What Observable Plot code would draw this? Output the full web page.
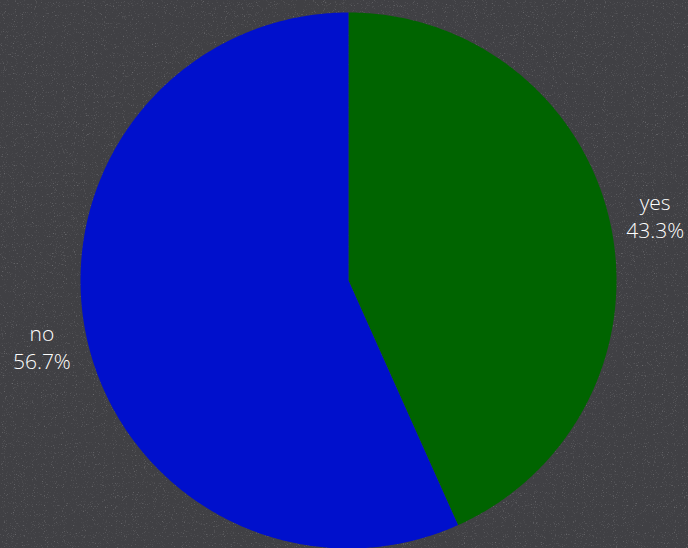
<!DOCTYPE html>
<html>
<head>
<meta charset="utf-8">
<script src="https://cdn.jsdelivr.net/npm/d3@7"></script>
<script src="https://cdn.jsdelivr.net/npm/@observablehq/plot@0.6"></script>
<style>
  html, body { margin: 0; padding: 0; background: #434347; }
  #chart { position: relative; width: 688px; height: 548px; }
  #chart svg { display: block; position: absolute; left: 0; top: 0; }
</style>
</head>
<body>
<div id="chart"></div>
<script>
const categories = ["yes", "no"];
const values = [43.3, 56.7];
const colors = ["#006400", "#0010cc"];

const W = 688, H = 548;
const cx = 348, cy = 280, R = 268;

const total = d3.sum(values);
const slices = [];
let acc = 0;
categories.forEach((c, i) => {
  const a0 = acc / total * 2 * Math.PI;
  acc += values[i];
  const a1 = acc / total * 2 * Math.PI;
  slices.push({cat: c, value: values[i], a0, a1});
});

// Polygon outline for each slice (unit circle coordinates, angle clockwise from top)
const poly = [];
for (const s of slices) {
  poly.push({cat: s.cat, x: 0, y: 0});
  const n = Math.max(8, Math.ceil((s.a1 - s.a0) / (Math.PI / 360)));
  for (let k = 0; k <= n; k++) {
    const a = s.a0 + (s.a1 - s.a0) * k / n;
    poly.push({cat: s.cat, x: Math.sin(a), y: Math.cos(a)});
  }
  poly.push({cat: s.cat, x: 0, y: 0});
}

const labelR = 1.17;
const labels = slices.map(s => {
  const m = (s.a0 + s.a1) / 2;
  return {x: labelR * Math.sin(m), y: labelR * Math.cos(m), text: `${s.cat}\n${s.value.toFixed(1)}%`};
});

const chart = Plot.plot({
  width: W,
  height: H,
  margin: 0,
  style: {background: "transparent", fontFamily: "'Open Sans', sans-serif"},
  x: {domain: [-cx / R, (W - cx) / R], range: [0, W], axis: null},
  y: {domain: [-(H - cy) / R, cy / R], range: [H, 0], axis: null},
  color: {domain: categories, range: colors},
  marks: [
    Plot.line(poly, {x: "x", y: "y", z: "cat", fill: "cat", stroke: "none", curve: "linear"}),
    Plot.text(labels, {x: "x", y: "y", text: "text", fill: "white", fontSize: 21, fontWeight: 300, lineHeight: 1.35, textAnchor: "middle"})
  ]
});

// subtle chalkboard-like speckle texture behind the chart
const ns = "http://www.w3.org/2000/svg";
const bg = document.createElementNS(ns, "svg");
bg.setAttribute("width", W); bg.setAttribute("height", H);
bg.innerHTML = `<filter id="spk" x="0" y="0" width="100%" height="100%">
  <feTurbulence type="fractalNoise" baseFrequency="0.9" numOctaves="2" seed="3" result="n"/>
  <feColorMatrix in="n" type="matrix" values="0 0 0 0 1  0 0 0 0 1  0 0 0 0 1  0 0 0 2.2 -1.35" />
</filter>
<rect width="${W}" height="${H}" fill="#404044"/>
<rect width="${W}" height="${H}" filter="url(#spk)" opacity="0.35"/>`;
const host = document.getElementById("chart");
host.appendChild(bg);
host.appendChild(chart);
</script>
</body>
</html>
